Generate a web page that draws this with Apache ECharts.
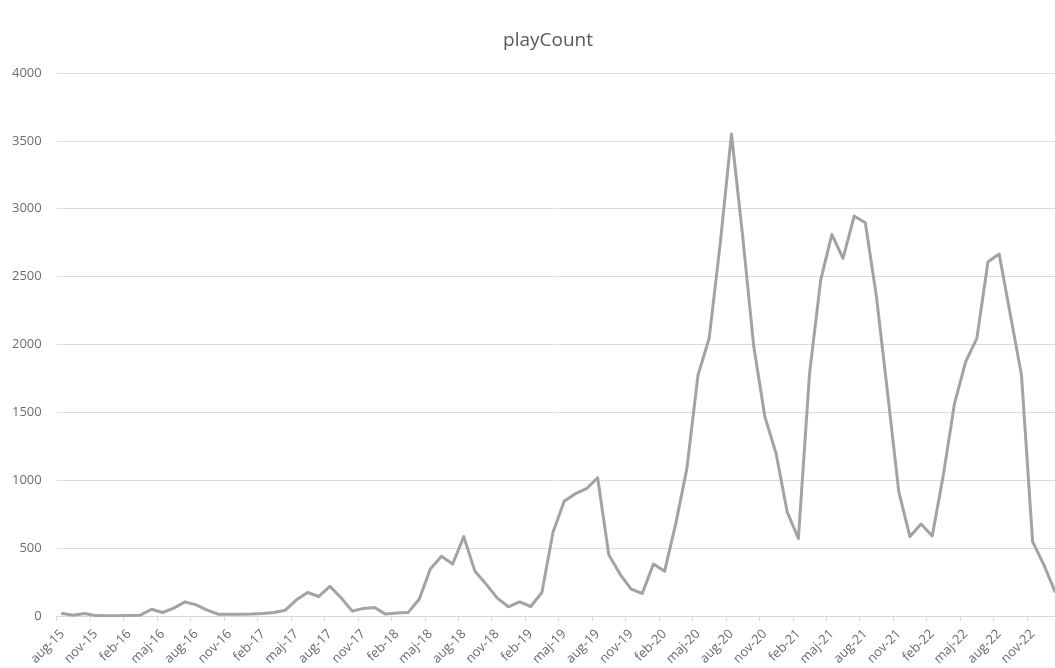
<!DOCTYPE html>
<html>
<head>
<meta charset="utf-8">
<script src="https://cdn.jsdelivr.net/npm/echarts@6/dist/echarts.min.js"></script>
<style>
html,body{margin:0;padding:0;background:#fff;overflow:hidden;width:1055px;height:668px;}
#chart{width:1061px;height:668px;}
</style>
</head>
<body>
<div id="chart"></div>
<script>
// Month names (Danish) used for the category axis
var monthNames = ['jan','feb','mar','apr','maj','jun','jul','aug','sep','okt','nov','dec'];
// First month: aug-15, 90 monthly points through jan-23
var startYear = 2015, startMonth = 7, monthCount = 90;

// Series: playCount per month
var playCount = [
  17, 5, 17, 2, 0, 0, 2, 5, 49, 25, 57, 103,
  81, 42, 12, 12, 12, 13, 17, 25, 42, 118, 172, 143,
  217, 133, 35, 55, 61, 13, 22, 24, 123, 345, 439, 382,
  584, 328, 234, 131, 67, 103, 69, 172, 616, 845, 900, 937,
  1018, 451, 308, 197, 165, 382, 328, 678, 1085, 1775, 2046, 2750,
  3550, 2800, 1984, 1466, 1196, 764, 570, 1787, 2474, 2811, 2634, 2946,
  2896, 2351, 1640, 915, 584, 677, 589, 1040, 1566, 1873, 2045, 2609,
  2666, 2220, 1775, 547, 378, 180
];

// Y axis ticks
var yTicks = [0, 500, 1000, 1500, 2000, 2500, 3000, 3500, 4000];

var categories = [];
for (var k = 0; k < monthCount; k++) {
  var m = (startMonth + k) % 12;
  var y = startYear + Math.floor((startMonth + k) / 12);
  categories.push(monthNames[m] + '-' + String(y).slice(2));
}

var font = 'Open Sans';
var chart = echarts.init(document.getElementById('chart'), null, {renderer: 'canvas'});
chart.setOption({
  animation: false,
  backgroundColor: '#ffffff',
  title: {
    text: 'playCount',
    left: 543,
    top: 26,
    textAlign: 'center',
    textStyle: {fontFamily: font, fontSize: 19, fontWeight: 'normal', color: '#595959'}
  },
  grid: {left: 56.7, right: 0.5, top: 73, bottom: 52, containLabel: false},
  xAxis: {
    type: 'category',
    data: categories,
    boundaryGap: true,
    axisLine: {show: true, lineStyle: {color: '#d9d9d9', width: 1}},
    axisTick: {show: true, interval: 2, length: 5, alignWithLabel: false, lineStyle: {color: '#d9d9d9'}},
    axisLabel: {
      interval: 2, rotate: 45, margin: 16,
      fontFamily: font, fontSize: 13, color: '#6b6b6b'
    },
    splitLine: {show: false}
  },
  yAxis: {
    type: 'value',
    min: yTicks[0],
    max: yTicks[yTicks.length - 1],
    interval: yTicks[1] - yTicks[0],
    axisLine: {show: false},
    axisTick: {show: false},
    axisLabel: {
      margin: 15, fontFamily: font, fontSize: 13, color: '#6b6b6b',
      formatter: function (v) { return String(v); }
    },
    splitLine: {show: true, lineStyle: {color: '#dcdcdc', width: 1}}
  },
  series: [{
    type: 'line',
    data: playCount,
    showSymbol: false,
    symbol: 'none',
    lineStyle: {color: '#a3a3a3', width: 3, join: 'round', cap: 'round'}
  }]
});
</script>
</body>
</html>
